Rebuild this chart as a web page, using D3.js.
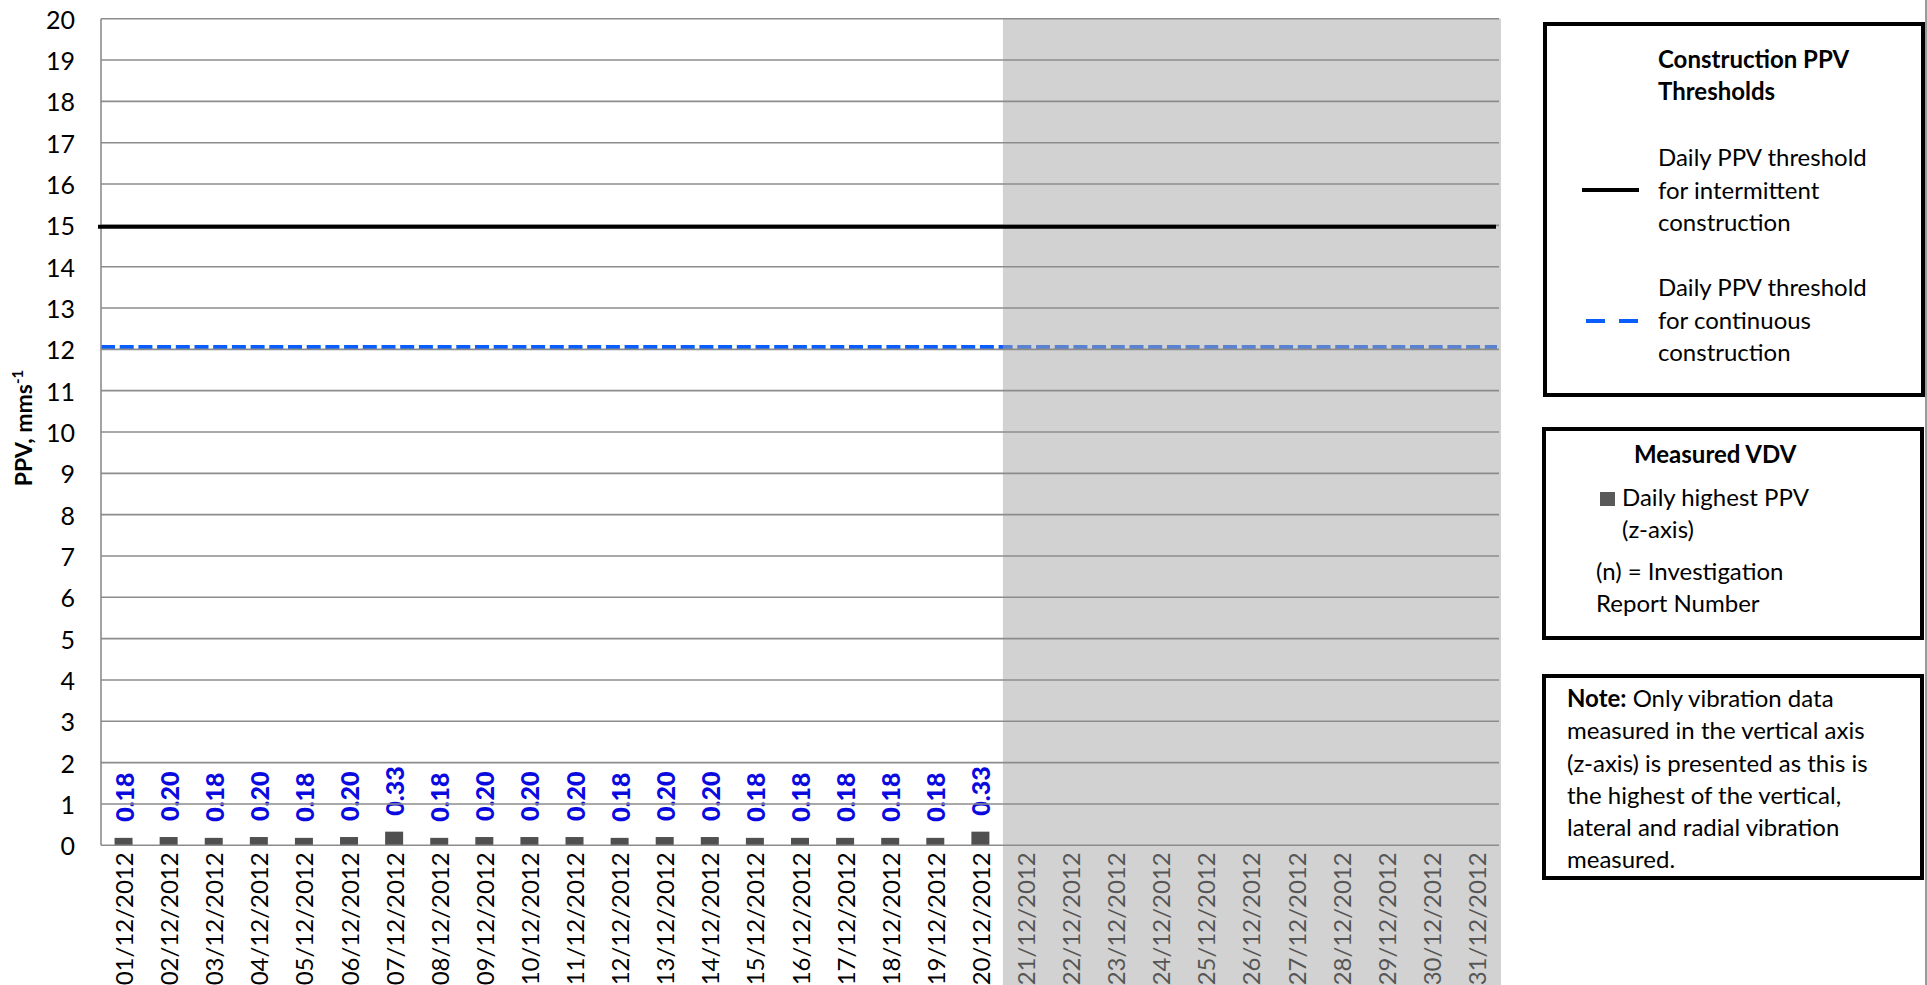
<!DOCTYPE html>
<html>
<head>
<meta charset="utf-8">
<script src="https://cdnjs.cloudflare.com/ajax/libs/d3/7.8.5/d3.min.js"></script>
<style>
  html, body { margin: 0; padding: 0; background: #fff; }
  svg { display: block; font-family: Lato, "Open Sans", sans-serif; }
</style>
</head>
<body>
<svg id="chart" width="1927" height="985"></svg>
<script>
// Daily dates for December 2012
const dates = [
  "01/12/2012","02/12/2012","03/12/2012","04/12/2012","05/12/2012","06/12/2012",
  "07/12/2012","08/12/2012","09/12/2012","10/12/2012","11/12/2012","12/12/2012",
  "13/12/2012","14/12/2012","15/12/2012","16/12/2012","17/12/2012","18/12/2012",
  "19/12/2012","20/12/2012","21/12/2012","22/12/2012","23/12/2012","24/12/2012",
  "25/12/2012","26/12/2012","27/12/2012","28/12/2012","29/12/2012","30/12/2012",
  "31/12/2012"
];
// Daily highest PPV (z-axis), mm/s, measured days only
const ppvValues = [0.18,0.20,0.18,0.20,0.18,0.20,0.33,0.18,0.20,0.20,
                   0.20,0.18,0.20,0.20,0.18,0.18,0.18,0.18,0.18,0.33];
// Threshold levels
const intermittentThreshold = 15;
const continuousThreshold = 12;
// Y-axis ticks
const yTicks = [0,1,2,3,4,5,6,7,8,9,10,11,12,13,14,15,16,17,18,19,20];
// First date with no data yet (shaded period)
const firstPendingDate = "21/12/2012";

const svg = d3.select("#chart");
const W = 1927, H = 985;
const plot = { left: 101, right: 1499, top: 18.7, bottom: 845.3 };

const x = d3.scaleBand().domain(dates).range([plot.left, plot.right]).padding(0);
const y = d3.scaleLinear().domain([0, 20]).range([plot.bottom, plot.top]);

const barW = 18;
const fontSize = 24;

// Y tick labels
svg.append("g").selectAll("text").data(yTicks).join("text")
  .attr("x", 75).attr("y", d => y(d))
  .attr("text-anchor", "end").attr("dominant-baseline", "central")
  .attr("font-size", 25).attr("fill", "#000")
  .text(d => d);

// Y axis title
const yTitle = svg.append("text")
  .attr("transform", `translate(32,${(plot.top + plot.bottom) / 2 - 4}) rotate(-90)`)
  .attr("text-anchor", "middle")
  .attr("font-size", 23).attr("font-weight", "bold").attr("fill", "#000");
yTitle.append("tspan").text("PPV, mms");
yTitle.append("tspan").attr("font-size", 15).attr("dy", -9).text("-1");

// Bars
svg.append("g").selectAll("rect").data(ppvValues).join("rect")
  .attr("x", (d, i) => x(dates[i]) + x.bandwidth() / 2 - barW / 2)
  .attr("y", d => y(d))
  .attr("width", barW)
  .attr("height", d => y(0) - y(d))
  .attr("fill", "#505050");

// Data labels
svg.append("g").selectAll("text").data(ppvValues).join("text")
  .attr("transform", (d, i) =>
    `translate(${x(dates[i]) + x.bandwidth() / 2},${y(d) - 16}) rotate(-90)`)
  .attr("text-anchor", "start").attr("dominant-baseline", "central")
  .attr("font-size", 25).attr("font-weight", 900).attr("fill", "#0a0ae0")
  .text(d => d.toFixed(2));

// X labels
svg.append("g").selectAll("text").data(dates).join("text")
  .attr("transform", d =>
    `translate(${x(d) + x.bandwidth() / 2},${plot.bottom + 7}) rotate(-90)`)
  .attr("text-anchor", "end").attr("dominant-baseline", "central")
  .attr("font-size", 24).attr("fill", "#000")
  .text(d => d);

// Continuous threshold (dashed)
svg.append("line")
  .attr("x1", plot.left).attr("x2", plot.right - 2)
  .attr("y1", y(continuousThreshold) - 2).attr("y2", y(continuousThreshold) - 2)
  .attr("stroke", "#0a5eff").attr("stroke-width", 4.5)
  .attr("stroke-dasharray", "14,4.7");

// Shaded pending period
svg.append("rect")
  .attr("x", x(firstPendingDate)).attr("y", y(20))
  .attr("width", plot.right + 2 - x(firstPendingDate))
  .attr("height", H - y(20))
  .attr("fill", "rgb(167,167,167)").attr("fill-opacity", 0.51);

// Gridlines
svg.append("g").selectAll("line").data(yTicks).join("line")
  .attr("x1", plot.left).attr("x2", plot.right)
  .attr("y1", d => y(d)).attr("y2", d => y(d))
  .attr("stroke", "#8c8c8c").attr("stroke-width", 1.6);

// Y axis line
svg.append("line")
  .attr("x1", plot.left).attr("x2", plot.left)
  .attr("y1", plot.top).attr("y2", plot.bottom)
  .attr("stroke", "#8c8c8c").attr("stroke-width", 1.6);

// Intermittent threshold (solid)
svg.append("line")
  .attr("x1", plot.left - 3).attr("x2", plot.right - 3)
  .attr("y1", y(intermittentThreshold) + 1.5).attr("y2", y(intermittentThreshold) + 1.5)
  .attr("stroke", "#000").attr("stroke-width", 4);

// Right border of the chart area
svg.append("line")
  .attr("x1", 1926).attr("x2", 1926).attr("y1", 0).attr("y2", H)
  .attr("stroke", "#9a9a9a").attr("stroke-width", 2);

// Legend boxes
function box(x0, y0, w, h) {
  svg.append("rect").attr("x", x0).attr("y", y0).attr("width", w).attr("height", h)
    .attr("fill", "#fff").attr("stroke", "#000").attr("stroke-width", 4);
}
function txt(x0, y0, s, bold) {
  return svg.append("text").attr("x", x0).attr("y", y0)
    .attr("font-size", fontSize).attr("fill", "#000")
    .attr("font-weight", bold ? "bold" : "normal").text(s);
}

box(1545, 24, 378, 371);
txt(1658, 68, "Construction PPV", true);
txt(1658, 100, "Thresholds", true);
txt(1658, 166, "Daily PPV threshold");
txt(1658, 199, "for intermittent");
txt(1658, 231, "construction");
txt(1658, 296, "Daily PPV threshold");
txt(1658, 329, "for continuous");
txt(1658, 361, "construction");
svg.append("line").attr("x1", 1582).attr("x2", 1639).attr("y1", 190).attr("y2", 190)
  .attr("stroke", "#000").attr("stroke-width", 4);
svg.append("line").attr("x1", 1586).attr("x2", 1639).attr("y1", 321).attr("y2", 321)
  .attr("stroke", "#0a5eff").attr("stroke-width", 4).attr("stroke-dasharray", "19,14");

box(1544, 429, 378, 209);
txt(1634, 463, "Measured VDV", true);
svg.append("rect").attr("x", 1600).attr("y", 492).attr("width", 15).attr("height", 14)
  .attr("fill", "#595959");
txt(1622, 506, "Daily highest PPV");
txt(1622, 538, "(z-axis)");
txt(1596, 580, "(n) = Investigation");
txt(1596, 612, "Report Number");

box(1544, 676, 378, 202);
const n1 = svg.append("text").attr("x", 1567).attr("y", 707)
  .attr("font-size", fontSize).attr("fill", "#000");
n1.append("tspan").attr("font-weight", "bold").text("Note:");
n1.append("tspan").text(" Only vibration data");
txt(1567, 739, "measured in the vertical axis");
txt(1567, 772, "(z-axis) is presented as this is");
txt(1567, 804, "the highest of the vertical,");
txt(1567, 836, "lateral and radial vibration");
txt(1567, 868, "measured.");
</script>
</body>
</html>
